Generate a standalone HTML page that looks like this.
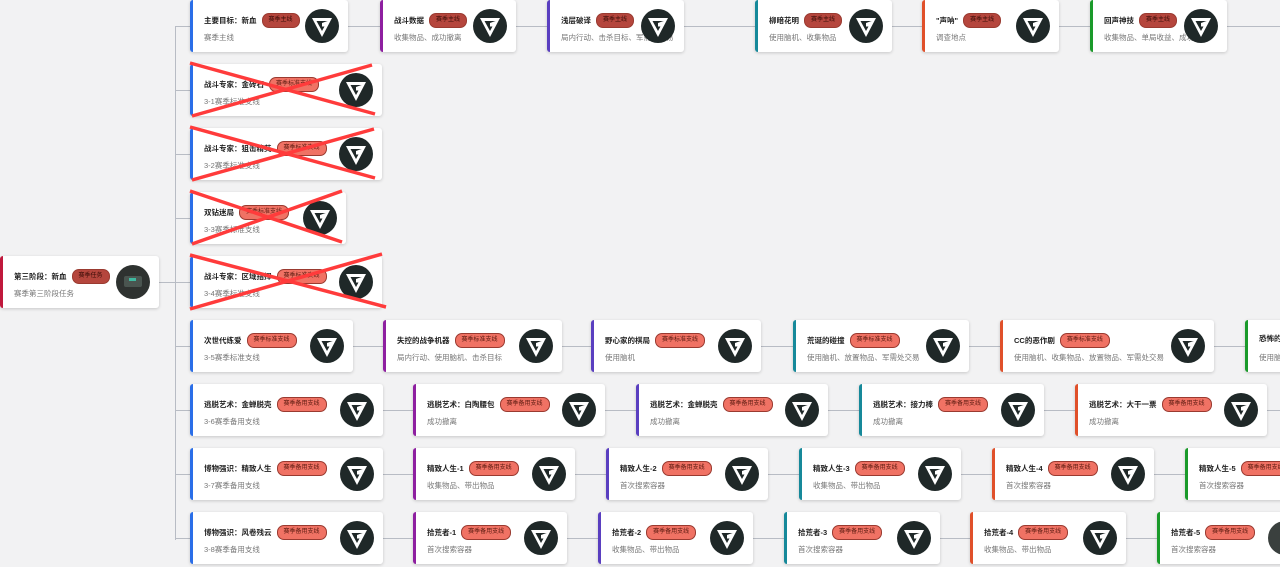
<!DOCTYPE html>
<html><head><meta charset="utf-8"><style>
body{margin:0;width:1280px;height:567px;background:#f2f2f3;position:relative;overflow:hidden;font-family:"Liberation Sans","Noto Sans CJK SC",sans-serif}
.c{position:absolute;height:52px;background:#fff;border-radius:3px;box-shadow:0 1px 3px rgba(0,0,0,.18);border-left:3px solid #2a6ee8;box-sizing:border-box}
.t{position:absolute;left:11px;top:13px;font-size:7.5px;font-weight:bold;color:#222;white-space:nowrap;display:flex;align-items:center}
.s{position:absolute;left:11px;top:32px;font-size:7.5px;color:#777;white-space:nowrap}
.g{display:inline-block;margin-left:5px;height:13px;line-height:13px;padding:0 6px;border-radius:7px;font-size:6px;font-weight:normal;border:1px solid #9a3a30;background:#f07264;color:#5a1a10}
.m{background:#b5463d;color:#3a0d08}
.i{position:absolute;right:9px;top:9px;width:34px;height:34px}
.h{position:absolute;height:1px;background:#b8bcc4}
.v{position:absolute;width:1px;background:#b8bcc4}
.p{border-left-color:#8e1fa0}.q{border-left-color:#5a3fc0}.r{border-left-color:#16899a}.o{border-left-color:#e0502a}.n{border-left-color:#1a9a2a}
</style></head><body>
<svg width="0" height="0" style="position:absolute"><defs><symbol id="ic" viewBox="0 0 34 34"><circle cx="17" cy="17" r="17" fill="#1f2828"/><polygon points="7,9 27,9 17,28" fill="#fff"/><polygon points="11.5,12 22.5,12 17,22" fill="#1f2828"/><polygon points="17,14 22.5,12 20.5,17.5 17,17.5" fill="#fff"/></symbol></defs></svg>

<div class="v" style="left:175px;top:26px;height:514px"></div>
<div class="h" style="left:159px;top:282px;width:16px"></div>
<div class="h" style="left:175px;top:26px;width:15px"></div>
<div class="h" style="left:175px;top:90px;width:15px"></div>
<div class="h" style="left:175px;top:154px;width:15px"></div>
<div class="h" style="left:175px;top:218px;width:15px"></div>
<div class="h" style="left:175px;top:282px;width:15px"></div>
<div class="h" style="left:175px;top:346px;width:15px"></div>
<div class="h" style="left:175px;top:410px;width:15px"></div>
<div class="h" style="left:175px;top:474px;width:15px"></div>
<div class="h" style="left:175px;top:538px;width:15px"></div>
<div class="h" style="left:340px;top:26px;width:940px"></div>
<div class="h" style="left:340px;top:346px;width:940px"></div>
<div class="h" style="left:340px;top:410px;width:940px"></div>
<div class="h" style="left:340px;top:474px;width:940px"></div>
<div class="h" style="left:340px;top:538px;width:940px"></div>

<div class="c" style="left:0;top:256px;width:159px;border-left-color:#c0183c"><div class="t">第三阶段：新血<span class="g m">赛季任务</span></div><div class="s">赛季第三阶段任务</div><svg class="i" viewBox="0 0 34 34"><circle cx="17" cy="17" r="17" fill="#2e3230"/><rect x="8" y="11" width="18" height="11" rx="2" fill="#4a5550"/><rect x="13" y="13" width="7" height="3" fill="#3fb9a0"/></svg></div>

<div class="c" style="left:190px;top:0;width:158px"><div class="t">主要目标：新血<span class="g m">赛季主线</span></div><div class="s">赛季主线</div><svg class="i"><use href="#ic"/></svg></div>
<div class="c p" style="left:380px;top:0;width:136px"><div class="t">战斗数据<span class="g m">赛季主线</span></div><div class="s">收集物品、成功撤离</div><svg class="i"><use href="#ic"/></svg></div>
<div class="c q" style="left:547px;top:0;width:137px"><div class="t">浅层破译<span class="g m">赛季主线</span></div><div class="s">局内行动、击杀目标、军需处交易</div><svg class="i"><use href="#ic"/></svg></div>
<div class="c r" style="left:755px;top:0;width:137px"><div class="t">柳暗花明<span class="g m">赛季主线</span></div><div class="s">使用脑机、收集物品</div><svg class="i"><use href="#ic"/></svg></div>
<div class="c o" style="left:922px;top:0;width:137px"><div class="t">"声呐"<span class="g m">赛季主线</span></div><div class="s">调查地点</div><svg class="i"><use href="#ic"/></svg></div>
<div class="c n" style="left:1090px;top:0;width:137px"><div class="t">回声神技<span class="g m">赛季主线</span></div><div class="s">收集物品、单局收益、成功撤离</div><svg class="i"><use href="#ic"/></svg></div>

<div class="c" style="left:190px;top:64px;width:192px"><div class="t">战斗专家：金砖石<span class="g">赛季标准支线</span></div><div class="s">3-1赛季标准支线</div><svg class="i"><use href="#ic"/></svg></div>
<div class="c" style="left:190px;top:128px;width:192px"><div class="t">战斗专家：狙击精英<span class="g">赛季标准支线</span></div><div class="s">3-2赛季标准支线</div><svg class="i"><use href="#ic"/></svg></div>
<div class="c" style="left:190px;top:192px;width:156px"><div class="t">双钻迷局<span class="g">赛季标准支线</span></div><div class="s">3-3赛季标准支线</div><svg class="i"><use href="#ic"/></svg></div>
<div class="c" style="left:190px;top:256px;width:192px"><div class="t">战斗专家：区域指挥<span class="g">赛季标准支线</span></div><div class="s">3-4赛季标准支线</div><svg class="i"><use href="#ic"/></svg></div>

<div class="c" style="left:190px;top:320px;width:163px"><div class="t">次世代练爱<span class="g">赛季标准支线</span></div><div class="s">3-5赛季标准支线</div><svg class="i"><use href="#ic"/></svg></div>
<div class="c p" style="left:383px;top:320px;width:179px"><div class="t">失控的战争机器<span class="g">赛季标准支线</span></div><div class="s">局内行动、使用脑机、击杀目标</div><svg class="i"><use href="#ic"/></svg></div>
<div class="c q" style="left:591px;top:320px;width:170px"><div class="t">野心家的棋局<span class="g">赛季标准支线</span></div><div class="s">使用脑机</div><svg class="i"><use href="#ic"/></svg></div>
<div class="c r" style="left:793px;top:320px;width:176px"><div class="t">荒诞的碰撞<span class="g">赛季标准支线</span></div><div class="s">使用脑机、放置物品、军需处交易</div><svg class="i"><use href="#ic"/></svg></div>
<div class="c o" style="left:1000px;top:320px;width:214px"><div class="t">CC的恶作剧<span class="g">赛季标准支线</span></div><div class="s">使用脑机、收集物品、放置物品、军需处交易</div><svg class="i"><use href="#ic"/></svg></div>
<div class="c n" style="left:1245px;top:320px;width:120px"><div class="t">恐怖的</div><div class="s">使用脑机</div></div>

<div class="c" style="left:190px;top:384px;width:193px"><div class="t">逃脱艺术：金蝉脱壳<span class="g">赛季备用支线</span></div><div class="s">3-6赛季备用支线</div><svg class="i"><use href="#ic"/></svg></div>
<div class="c p" style="left:413px;top:384px;width:192px"><div class="t">逃脱艺术：白陶腰包<span class="g">赛季备用支线</span></div><div class="s">成功撤离</div><svg class="i"><use href="#ic"/></svg></div>
<div class="c q" style="left:636px;top:384px;width:192px"><div class="t">逃脱艺术：金蝉脱壳<span class="g">赛季备用支线</span></div><div class="s">成功撤离</div><svg class="i"><use href="#ic"/></svg></div>
<div class="c r" style="left:859px;top:384px;width:185px"><div class="t">逃脱艺术：接力棒<span class="g">赛季备用支线</span></div><div class="s">成功撤离</div><svg class="i"><use href="#ic"/></svg></div>
<div class="c o" style="left:1075px;top:384px;width:192px"><div class="t">逃脱艺术：大干一票<span class="g">赛季备用支线</span></div><div class="s">成功撤离</div><svg class="i"><use href="#ic"/></svg></div>

<div class="c" style="left:190px;top:448px;width:193px"><div class="t">博物强识：精致人生<span class="g">赛季备用支线</span></div><div class="s">3-7赛季备用支线</div><svg class="i"><use href="#ic"/></svg></div>
<div class="c p" style="left:413px;top:448px;width:162px"><div class="t">精致人生-1<span class="g">赛季备用支线</span></div><div class="s">收集物品、带出物品</div><svg class="i"><use href="#ic"/></svg></div>
<div class="c q" style="left:606px;top:448px;width:162px"><div class="t">精致人生-2<span class="g">赛季备用支线</span></div><div class="s">首次搜索容器</div><svg class="i"><use href="#ic"/></svg></div>
<div class="c r" style="left:799px;top:448px;width:162px"><div class="t">精致人生-3<span class="g">赛季备用支线</span></div><div class="s">收集物品、带出物品</div><svg class="i"><use href="#ic"/></svg></div>
<div class="c o" style="left:992px;top:448px;width:162px"><div class="t">精致人生-4<span class="g">赛季备用支线</span></div><div class="s">首次搜索容器</div><svg class="i"><use href="#ic"/></svg></div>
<div class="c n" style="left:1185px;top:448px;width:140px"><div class="t">精致人生-5<span class="g">赛季备用支线</span></div><div class="s">首次搜索容器</div></div>

<div class="c" style="left:190px;top:512px;width:193px"><div class="t">博物强识：风卷残云<span class="g">赛季备用支线</span></div><div class="s">3-8赛季备用支线</div><svg class="i"><use href="#ic"/></svg></div>
<div class="c p" style="left:413px;top:512px;width:154px"><div class="t">拾荒者-1<span class="g">赛季备用支线</span></div><div class="s">首次搜索容器</div><svg class="i"><use href="#ic"/></svg></div>
<div class="c q" style="left:598px;top:512px;width:155px"><div class="t">拾荒者-2<span class="g">赛季备用支线</span></div><div class="s">收集物品、带出物品</div><svg class="i"><use href="#ic"/></svg></div>
<div class="c r" style="left:784px;top:512px;width:156px"><div class="t">拾荒者-3<span class="g">赛季备用支线</span></div><div class="s">首次搜索容器</div><svg class="i"><use href="#ic"/></svg></div>
<div class="c o" style="left:970px;top:512px;width:156px"><div class="t">拾荒者-4<span class="g">赛季备用支线</span></div><div class="s">收集物品、带出物品</div><svg class="i"><use href="#ic"/></svg></div>
<div class="c n" style="left:1157px;top:512px;width:160px"><div class="t">拾荒者-5<span class="g">赛季备用支线</span></div><div class="s">首次搜索容器</div><svg style="position:absolute;left:108px;top:9px;width:34px;height:34px"><circle cx="17" cy="17" r="17" fill="#3a403e"/></svg></div>

<svg style="position:absolute;left:0;top:0" width="1280" height="567">
<g stroke="#ff3b3b" stroke-width="3.5">
<line x1="190" y1="63" x2="375" y2="114"/><line x1="372" y1="65" x2="192" y2="116"/>
<line x1="190" y1="127" x2="375" y2="178"/><line x1="374" y1="129" x2="192" y2="180"/>
<line x1="190" y1="191" x2="342" y2="242"/><line x1="342" y1="191" x2="192" y2="244"/>
<line x1="190" y1="255" x2="386" y2="307"/><line x1="382" y1="254" x2="190" y2="309"/>
</g></svg>
</body></html>
